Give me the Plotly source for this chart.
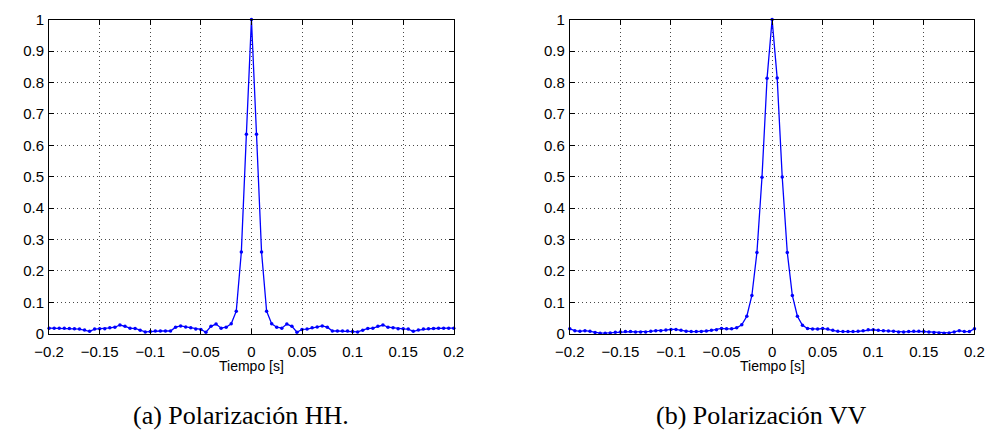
import plotly.graph_objects as go

# Sample times [s]
tiempo = [-0.2, -0.195, -0.19, -0.185, -0.18, -0.175, -0.17, -0.165, -0.16, -0.155,
          -0.15, -0.145, -0.14, -0.135, -0.13, -0.125, -0.12, -0.115, -0.11, -0.105,
          -0.1, -0.095, -0.09, -0.085, -0.08, -0.075, -0.07, -0.065, -0.06, -0.055,
          -0.05, -0.045, -0.04, -0.035, -0.03, -0.025, -0.02, -0.015, -0.01, -0.005,
          0.0,
          0.005, 0.01, 0.015, 0.02, 0.025, 0.03, 0.035, 0.04, 0.045, 0.05,
          0.055, 0.06, 0.065, 0.07, 0.075, 0.08, 0.085, 0.09, 0.095, 0.1,
          0.105, 0.11, 0.115, 0.12, 0.125, 0.13, 0.135, 0.14, 0.145, 0.15,
          0.155, 0.16, 0.165, 0.17, 0.175, 0.18, 0.185, 0.19, 0.195, 0.2]

# Polarización HH
hh = [0.018, 0.018, 0.018, 0.018, 0.017, 0.016, 0.015, 0.012, 0.008, 0.015,
      0.016, 0.016, 0.019, 0.021, 0.028, 0.024, 0.018, 0.017, 0.011, 0.006,
      0.007, 0.009, 0.009, 0.009, 0.009, 0.021, 0.025, 0.022, 0.019, 0.015,
      0.014, 0.005, 0.024, 0.031, 0.018, 0.021, 0.032, 0.072, 0.26, 0.635,
      1.0,
      0.635, 0.26, 0.072, 0.032, 0.021, 0.018, 0.031, 0.024, 0.005, 0.014,
      0.015, 0.019, 0.022, 0.025, 0.021, 0.009, 0.009, 0.009, 0.009, 0.007,
      0.006, 0.011, 0.017, 0.018, 0.024, 0.028, 0.021, 0.019, 0.016, 0.016,
      0.015, 0.008, 0.012, 0.015, 0.016, 0.017, 0.018, 0.018, 0.018, 0.018]

# Polarización VV
vv = [0.016, 0.010, 0.008, 0.010, 0.008, 0.004, 0.002, 0.002, 0.003, 0.005,
      0.006, 0.007, 0.007, 0.006, 0.006, 0.006, 0.008, 0.010, 0.010, 0.012,
      0.014, 0.014, 0.011, 0.008, 0.007, 0.007, 0.007, 0.009, 0.011, 0.013,
      0.017, 0.016, 0.016, 0.019, 0.029, 0.056, 0.122, 0.259, 0.498, 0.813,
      1.0,
      0.814, 0.499, 0.259, 0.122, 0.056, 0.027, 0.017, 0.015, 0.015, 0.017,
      0.015, 0.011, 0.008, 0.007, 0.007, 0.007, 0.008, 0.010, 0.013, 0.013,
      0.011, 0.010, 0.009, 0.008, 0.006, 0.006, 0.007, 0.008, 0.008, 0.007,
      0.006, 0.004, 0.003, 0.002, 0.003, 0.006, 0.010, 0.007, 0.007, 0.016]

x_ticks = [-0.2, -0.15, -0.1, -0.05, 0, 0.05, 0.1, 0.15, 0.2]
x_ticktext = ["\u22120.2", "\u22120.15", "\u22120.1", "\u22120.05", "0", "0.05", "0.1", "0.15", "0.2"]
y_ticks = [0, 0.1, 0.2, 0.3, 0.4, 0.5, 0.6, 0.7, 0.8, 0.9, 1]
y_ticktext = ["0", "0.1", "0.2", "0.3", "0.4", "0.5", "0.6", "0.7", "0.8", "0.9", "1"]

xlabel = "Tiempo [s]"
captions = ["(a) Polarización HH.", "(b) Polarización VV"]

W, H = 1001, 436
BLUE = "#0000ff"

fig = go.Figure()
fig.add_trace(go.Scatter(x=tiempo, y=hh, mode="lines+markers",
                         line=dict(color=BLUE, width=1.3),
                         marker=dict(color=BLUE, size=3.5),
                         xaxis="x", yaxis="y", showlegend=False, cliponaxis=False))
fig.add_trace(go.Scatter(x=tiempo, y=vv, mode="lines+markers",
                         line=dict(color=BLUE, width=1.3),
                         marker=dict(color=BLUE, size=3.5),
                         xaxis="x2", yaxis="y2", showlegend=False, cliponaxis=False))

y_dom = [(H - 338) / H, (H - 11) / H]
x_doms = [[35 / W, 450 / W], [569 / W, 984 / W]]

tickfont = dict(family="Liberation Sans", size=15, color="black")
common = dict(tickmode="array",
              showgrid=True, gridcolor="rgba(40,40,40,0.85)", gridwidth=1, griddash="1px,3px",
              zeroline=False, showline=True, linecolor="black", linewidth=1, mirror="ticks",
              ticks="inside", ticklen=5, tickcolor="black", tickfont=tickfont)
common_x = dict(range=[-0.2, 0.2], tickvals=x_ticks, ticktext=x_ticktext,
                ticklabelstandoff=4, **common)
common_y = dict(range=[0, 1], tickvals=y_ticks, ticktext=y_ticktext,
                ticklabelstandoff=1, **common)

fig.update_layout(
    width=W, height=H,
    margin=dict(l=0, r=0, t=0, b=0),
    paper_bgcolor="white", plot_bgcolor="white",
    xaxis=dict(domain=x_doms[0], anchor="y", **common_x),
    yaxis=dict(domain=y_dom, anchor="x", **common_y),
    xaxis2=dict(domain=x_doms[1], anchor="y2", **common_x),
    yaxis2=dict(domain=y_dom, anchor="x2", **common_y),
)

label_font = dict(family="Liberation Sans", size=14, color="black")
cap_font = dict(family="Liberation Serif", size=26, color="black")
for i, dom in enumerate(x_doms):
    cx = (dom[0] + dom[1]) / 2
    fig.add_annotation(x=cx, y=(H - 371) / H, xref="paper", yref="paper",
                       text=xlabel, showarrow=False, font=label_font,
                       xanchor="center", yanchor="middle")
cap_x = [232 / W, 766 / W]
for i, c in enumerate(captions):
    fig.add_annotation(x=cap_x[i], y=(H - 423) / H, xref="paper", yref="paper",
                       text=c, showarrow=False, font=cap_font,
                       xanchor="center", yanchor="middle")

fig.write_html("out.html")
